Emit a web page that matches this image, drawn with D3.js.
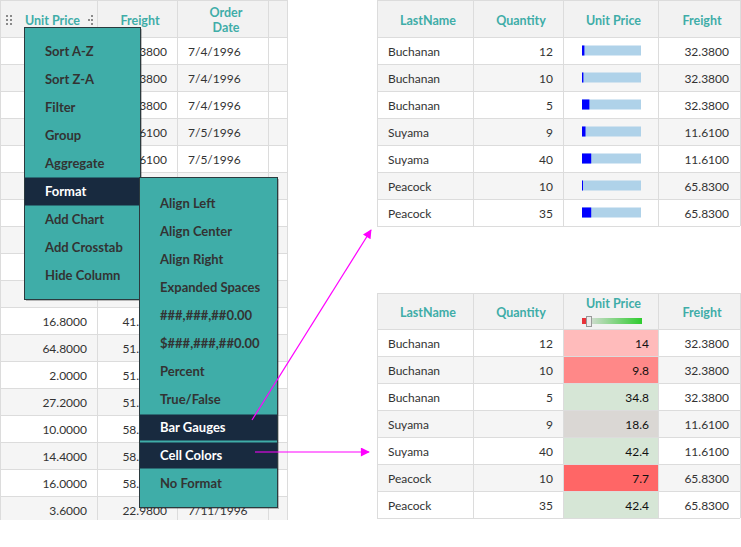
<!DOCTYPE html>
<html>
<head>
<meta charset="utf-8">
<script src="https://cdn.jsdelivr.net/npm/d3@7/dist/d3.min.js"></script>
<style>
body { margin: 0; background: #fff; }
svg { display: block; font-family: Lato, "Open Sans", sans-serif; }
</style>
</head>
<body>
<svg id="chart" width="741" height="547"></svg>
<script>
/* data */
var unitPrices = [14, 9.8, 34.8, 18.6, 42.4, 7.7, 42.4, 16.8, 16.8, 15.6, 16.8, 64.8, 2, 27.2, 10, 14.4, 16, 3.6];
var freights = [32.38, 32.38, 32.38, 11.61, 11.61, 65.83, 65.83, 65.83, 41.34, 41.34, 41.34, 51.3, 51.3, 51.3, 58.17, 58.17, 58.17, 22.98];
var orderDates = ["7/4/1996", "7/4/1996", "7/4/1996", "7/5/1996", "7/5/1996", "7/8/1996", "7/8/1996", "7/8/1996",
	"7/8/1996", "7/8/1996", "7/8/1996", "7/9/1996", "7/9/1996", "7/9/1996", "7/10/1996", "7/10/1996", "7/10/1996", "7/11/1996"];

var lastNames = ["Buchanan", "Buchanan", "Buchanan", "Suyama", "Suyama", "Peacock", "Peacock"];
var quantities = [12, 10, 5, 9, 40, 10, 35];
var detailPrices = [14, 9.8, 34.8, 18.6, 42.4, 7.7, 42.4];
var detailFreights = [32.38, 32.38, 32.38, 11.61, 11.61, 65.83, 65.83];
var rightHeaders = ["LastName", "Quantity", "Unit Price", "Freight"];

var mainMenu = ["Sort A-Z", "Sort Z-A", "Filter", "Group", "Aggregate", "Format", "Add Chart", "Add Crosstab", "Hide Column"];
var formatMenu = ["Align Left", "Align Center", "Align Right", "Expanded Spaces", "###,###,##0.00", "$###,###,##0.00",
	"Percent", "True/False", "Bar Gauges", "Cell Colors", "No Format"];
var activeMain = "Format";
var activeFormat = ["Bar Gauges", "Cell Colors"];

/* colours */
var teal = "#3fada8", navy = "#182a3f", grid = "#dcdcdc", headBg = "#f2f2f2", stripe = "#f5f5f5", ink = "#333";
var BODY = 12, HEAD = 12.5, ROW = 27;

var svg = d3.select("#chart");
var f4 = d3.format(".4f");

function drawGrid(g, cols, top, headH, n) {
	var yRow = d3.scaleBand().domain(d3.range(n)).range([top + headH, top + headH + n * ROW]);
	var x0 = cols[0], x1 = cols[cols.length - 1];
	g.append("rect").attr("x", x0).attr("y", top).attr("width", x1 - x0).attr("height", headH).attr("fill", headBg);
	g.selectAll("rect.row").data(d3.range(n)).enter().append("rect")
		.attr("class", "row")
		.attr("x", x0).attr("y", function(i) { return yRow(i); })
		.attr("width", x1 - x0).attr("height", yRow.bandwidth())
		.attr("fill", function(i) { return i % 2 ? stripe : "#fff"; });
	return yRow;
}

function drawLines(g, cols, top, headH, n) {
	var bottom = top + headH + n * ROW;
	var ys = [top, top + headH].concat(d3.range(1, n + 1).map(function(i) { return top + headH + i * ROW; }));
	g.selectAll("line.h").data(ys).enter().append("line").attr("class", "h")
		.attr("x1", cols[0]).attr("x2", cols[cols.length - 1])
		.attr("y1", function(d) { return d + 0.5; }).attr("y2", function(d) { return d + 0.5; })
		.attr("stroke", grid);
	g.selectAll("line.v").data(cols).enter().append("line").attr("class", "v")
		.attr("x1", function(d) { return d + 0.5; }).attr("x2", function(d) { return d + 0.5; })
		.attr("y1", top).attr("y2", bottom)
		.attr("stroke", grid);
}

/* ---------- left grid ---------- */
var leftCols = [0, 97, 177, 268, 287];
svg.append("clipPath").attr("id", "leftClip").append("rect").attr("x", 0).attr("y", 0).attr("width", 288).attr("height", 520);
var left = svg.append("g").attr("clip-path", "url(#leftClip)");
var yLeft = drawGrid(left, leftCols, 0, 37, unitPrices.length);
drawLines(left, leftCols, 0, 37, unitPrices.length);

var cellMid = function(i) { return yLeft(i) + yLeft.bandwidth() / 2 + 5.5; };
var cells = left.append("g").attr("class", "cells").attr("font-size", BODY).attr("fill", ink);
cells.selectAll("text.up").data(unitPrices).enter().append("text")
	.attr("x", 87).attr("y", function(d, i) { return cellMid(i); })
	.attr("text-anchor", "end").text(f4);
cells.selectAll("text.fr").data(freights).enter().append("text")
	.attr("x", 167).attr("y", function(d, i) { return cellMid(i); })
	.attr("text-anchor", "end").text(f4);
cells.selectAll("text.dt").data(orderDates).enter().append("text")
	.attr("x", 188).attr("y", function(d, i) { return cellMid(i); })
	.text(function(d) { return d; });

var lh = left.append("g").attr("font-size", HEAD).attr("font-weight", "bold").attr("fill", teal);
lh.append("text").attr("x", 25).attr("y", 25).text("Unit Price");
lh.append("text").attr("x", 140).attr("y", 25).attr("text-anchor", "middle").text("Freight");
lh.append("text").attr("x", 226).attr("y", 17).attr("text-anchor", "middle").text("Order");
lh.append("text").attr("x", 226).attr("y", 32).attr("text-anchor", "middle").text("Date");
// drag grips
var grip = [[7, 16], [11, 16], [7, 20], [11, 20], [7, 24], [11, 24], [92, 16], [92, 20], [92, 24], [89, 20]];
left.selectAll("rect.grip").data(grip).enter().append("rect")
	.attr("x", function(d) { return d[0] - 1; }).attr("y", function(d) { return d[1] - 1; })
	.attr("width", 2).attr("height", 2).attr("fill", "#8a8a8a");

/* ---------- right grids ---------- */
var rightCols = [377, 473, 563, 658, 740];
var gauge = d3.scaleLinear().domain([4, 250]).range([0, 59]).clamp(true);
var cellColor = d3.scaleLinear()
	.domain([7.7, 9.8, 14, 18.6, 34.8])
	.range(["#ff6666", "#ff8888", "#ffbbbb", "#dad7d4", "#d6e6d6"])
	.clamp(true);

function rightTable(top, headH, mode) {
	var g = svg.append("g");
	var yR = drawGrid(g, rightCols, top, headH, lastNames.length);
	var mid = function(i) { return yR(i) + yR.bandwidth() / 2 + 5.5; };
	if (mode === "colors") {
		g.selectAll("rect.cc").data(detailPrices).enter().append("rect")
			.attr("x", rightCols[2]).attr("y", function(d, i) { return yR(i); })
			.attr("width", rightCols[3] - rightCols[2]).attr("height", ROW)
			.attr("fill", cellColor);
	}
	drawLines(g, rightCols, top, headH, lastNames.length);

	var hy = top + headH / 2 + 6;
	var hx = d3.range(4).map(function(k) { return (rightCols[k] + rightCols[k + 1]) / 2 + 3; });
	g.selectAll("text.hd").data(rightHeaders).enter().append("text")
		.attr("x", function(d, k) { return hx[k]; })
		.attr("y", function(d, k) { return mode === "colors" && k === 2 ? top + 14.5 : hy; })
		.attr("text-anchor", "middle").attr("font-size", HEAD).attr("font-weight", "bold")
		.attr("fill", teal).text(function(d) { return d; });

	var body = g.append("g").attr("font-size", BODY).attr("fill", ink);
	body.selectAll("text.nm").data(lastNames).enter().append("text")
		.attr("x", 388).attr("y", function(d, i) { return mid(i); })
		.text(function(d) { return d; });
	body.selectAll("text.qt").data(quantities).enter().append("text")
		.attr("x", 553).attr("y", function(d, i) { return mid(i); })
		.attr("text-anchor", "end").text(function(d) { return d; });
	body.selectAll("text.fr").data(detailFreights).enter().append("text")
		.attr("x", 729).attr("y", function(d, i) { return mid(i); })
		.attr("text-anchor", "end").text(f4);

	if (mode === "gauges") {
		g.selectAll("rect.bg").data(detailPrices).enter().append("rect")
			.attr("x", 582).attr("y", function(d, i) { return yR(i) + 8.5; })
			.attr("width", 59).attr("height", 10).attr("fill", "#afd2e9");
		g.selectAll("rect.val").data(detailPrices).enter().append("rect")
			.attr("x", 582).attr("y", function(d, i) { return yR(i) + 8.5; })
			.attr("width", function(d) { return Math.max(1, gauge(d)); }).attr("height", 10).attr("fill", "#0000ff");
	} else {
		body.selectAll("text.cv").data(detailPrices).enter().append("text")
			.attr("x", 649).attr("y", function(d, i) { return mid(i); })
			.attr("text-anchor", "end").attr("fill", "#111").text(function(d) { return d; });
		// colour slider in the header
		var defs = svg.append("defs");
		var lg = defs.append("linearGradient").attr("id", "ccGrad");
		lg.append("stop").attr("offset", "0%").attr("stop-color", "#dedede");
		lg.append("stop").attr("offset", "100%").attr("stop-color", "#2ecc2e");
		g.append("rect").attr("x", 582).attr("y", top + 25).attr("width", 4).attr("height", 6).attr("fill", "#e8333a");
		g.append("rect").attr("x", 586).attr("y", top + 25).attr("width", 56).attr("height", 6).attr("fill", "url(#ccGrad)");
		g.append("rect").attr("x", 586.5).attr("y", top + 23.5).attr("width", 5).attr("height", 10)
			.attr("fill", "#ececec").attr("stroke", "#999");
	}
}
rightTable(0, 37, "gauges");
rightTable(293, 36, "colors");

/* ---------- context menus ---------- */
var menuBoxes = [];
function menu(x, y, w, items, itemTop, active, h) {
	menuBoxes.push([x, y, x + w + 2, y + h + 2]);
	var g = svg.append("g");
	g.append("rect").attr("x", x + 2).attr("y", y + 2).attr("width", w).attr("height", h).attr("fill", "rgba(0,0,0,0.25)");
	g.append("rect").attr("x", x + 0.5).attr("y", y + 0.5).attr("width", w).attr("height", h)
		.attr("fill", teal).attr("stroke", "#2b3a3e");
	var yI = d3.scaleBand().domain(items).range([itemTop, itemTop + items.length * 28]);
	g.selectAll("rect.hi").data(items.filter(function(d) { return active.indexOf(d) >= 0; })).enter().append("rect")
		.attr("x", x + 1).attr("y", function(d) { return yI(d) + (active.length > 1 ? 1.5 : 0); })
		.attr("width", w - 1).attr("height", active.length > 1 ? 26 : 28).attr("fill", navy);
	g.selectAll("text").data(items).enter().append("text")
		.attr("x", x + 21).attr("y", function(d) { return yI(d) + 18.5; })
		.attr("font-size", 13).attr("font-weight", "bold")
		.attr("fill", function(d) { return active.indexOf(d) >= 0 ? "#fff" : ink; })
		.text(function(d) { return d; });
}
menu(24, 27, 116, mainMenu, 37.5, [activeMain], 272);
menu(139, 177, 138, formatMenu, 189, activeFormat, 330);

// grid texts that sit entirely under an open menu are not drawn
cells.selectAll("text").each(function() {
	var b = this.getBBox();
	var hidden = menuBoxes.some(function(m) {
		return b.x >= m[0] && b.x + b.width <= m[2] && b.y >= m[1] && b.y + b.height <= m[3];
	});
	if (hidden) d3.select(this).remove();
});

/* ---------- arrows ---------- */
var defs2 = svg.append("defs");
defs2.append("marker").attr("id", "head").attr("viewBox", "0 0 10 10").attr("refX", 9).attr("refY", 5)
	.attr("markerWidth", 11).attr("markerHeight", 9).attr("markerUnits", "userSpaceOnUse").attr("orient", "auto")
	.append("path").attr("d", "M0,0L10,5L0,10Z").attr("fill", "#ff00ff");
var arrows = [[[252, 420], [371, 230]], [[255, 452], [369, 452]]];
svg.selectAll("line.arrow").data(arrows).enter().append("line")
	.attr("x1", function(d) { return d[0][0]; }).attr("y1", function(d) { return d[0][1]; })
	.attr("x2", function(d) { return d[1][0]; }).attr("y2", function(d) { return d[1][1]; })
	.attr("stroke", "#ff00ff").attr("stroke-width", 1.2).attr("marker-end", "url(#head)");
</script>
</body>
</html>
